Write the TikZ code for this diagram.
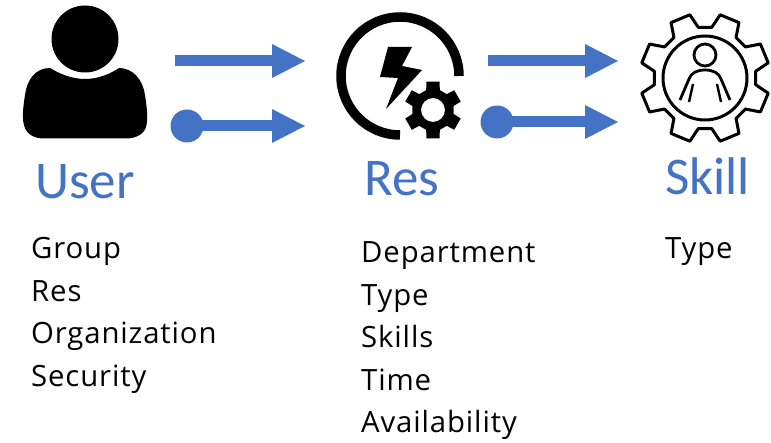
\documentclass[tikz,border=0pt]{standalone}
\usepackage{fontspec}
\setmainfont[LetterSpace=3]{Open Sans}
\newfontfamily\headfont{Carlito}
\usetikzlibrary{calc}
\definecolor{blu}{HTML}{4472C4}
\tikzset{
  head/.style={anchor=base west,inner sep=0pt,text=blu,font=\headfont\fontsize{53}{53}\selectfont},
  body/.style={anchor=base west,inner sep=0pt,text=black,font=\fontsize{29.3}{29}\selectfont},
  shaft/.style={draw=blu,line width=11pt},
  tip/.style={fill=blu,draw=none},
  dot/.style={circle,fill=blu,draw=none,minimum size=33pt,inner sep=0pt}
}
\begin{document}
\begin{tikzpicture}[x=1pt,y=-1pt]
\useasboundingbox (0,0) rectangle (771,443);
% user icon
\fill[black] (85,39) circle (33.5);
\fill[black] (50,68) .. controls (35,68) and (27,80) .. (25,95)
  .. controls (23,108) and (22,118) .. (24,125)
  .. controls (26,134) and (34,138.5) .. (44,138.5)
  -- (126,138.5) .. controls (136,138.5) and (145,134) .. (146.5,125)
  .. controls (148,118) and (147,108) .. (145,95)
  .. controls (143,80) and (133,68) .. (119,68)
  .. controls (110,74) and (98,79) .. (85,79)
  .. controls (72,79) and (60,74) .. (50,68) -- cycle;
% res icon
\draw[black,line width=9.5pt] (459,76) arc[start angle=0,end angle=-270,radius=59];
\fill[black] (388,47) -- (412,47) -- (402,66) -- (422,70) -- (386,109) -- (398,78) -- (380,77) -- cycle;
\fill[black,even odd rule]
  \foreach \a [count=\i] in {30,90,...,330} {
    \ifnum\i=1 ($(433,110)+(\a-13:29)$) \else -- ($(433,110)+(\a-13:29)$) \fi
    -- ($(433,110)+(\a+13:29)$) -- ($(433,110)+(\a+19:21)$) -- ($(433,110)+(\a+41:21)$)
  } -- cycle (433,110) circle (12);
% skill icon
\draw[black,line width=3pt,line join=round]
  \foreach \a [count=\i] in {22.5,67.5,...,337.5} {
    \ifnum\i=1 ($(705,78)+(\a-15:51)$) \else -- ($(705,78)+(\a-15:51)$) \fi
    -- ($(705,78)+(\a-9:65)$) -- ($(705,78)+(\a+9:65)$) -- ($(705,78)+(\a+15:51)$)
  } -- cycle;
\draw[black,line width=3pt] (705,78) circle (42);
\draw[black,line width=2.8pt] (705,55) circle (11);
\draw[black,line width=2.8pt,line join=round] (680,100) -- (689,79) .. controls (691,73) and (697,70) .. (705,70)
  .. controls (713,70) and (719,73) .. (721,79) -- (730,100);
\draw[black,line width=2.4pt] (693,84) -- (689,102) (717,84) -- (721,102);
% arrows
\coordinate (u1) at (175,61); \coordinate (r1) at (305,61);
\coordinate (r1b) at (272,61);
\node[dot] (u2) at (187,126) {}; \coordinate (r2) at (305,126); \coordinate (r2b) at (272,126);
\coordinate (s1s) at (488,61); \coordinate (s1) at (618,61); \coordinate (s1b) at (585,61);
\node[dot] (s2s) at (497,122) {}; \coordinate (s2) at (618,122); \coordinate (s2b) at (585,122);
\draw[shaft] (u1) -- (r1b);
\fill[tip] (r1) -- ($(r1b)+(0,-17)$) -- ($(r1b)+(0,17)$) -- cycle;
\draw[shaft] (u2.center) -- (r2b);
\fill[tip] (r2) -- ($(r2b)+(0,-17)$) -- ($(r2b)+(0,17)$) -- cycle;
\draw[shaft] (s1s) -- (s1b);
\fill[tip] (s1) -- ($(s1b)+(0,-17)$) -- ($(s1b)+(0,17)$) -- cycle;
\draw[shaft] (s2s.center) -- (s2b);
\fill[tip] (s2) -- ($(s2b)+(0,-17)$) -- ($(s2b)+(0,17)$) -- cycle;
% text
\node[head] (tu) at (35,198.5) {User};
\node[head] (tr) at (364,195.5) {Res};
\node[head] (ts) at (665,194.5) {Skill};
\node[body] (a1) at (31,258.5) {Group};
\node[body] (a2) at (31,301.5) {Res};
\node[body] (a3) at (31,343.5) {Organization};
\node[body] (a4) at (31,386.5) {Security};
\node[body] (b1) at (361,262.5) {Department};
\node[body] (b2) at (361,305.5) {Type};
\node[body] (b3) at (361,347.5) {Skills};
\node[body] (b4) at (361,390.5) {Time};
\node[body] (b5) at (361,432.5) {Availability};
\node[body] (c1) at (665,258.5) {Type};
\end{tikzpicture}
\end{document}
